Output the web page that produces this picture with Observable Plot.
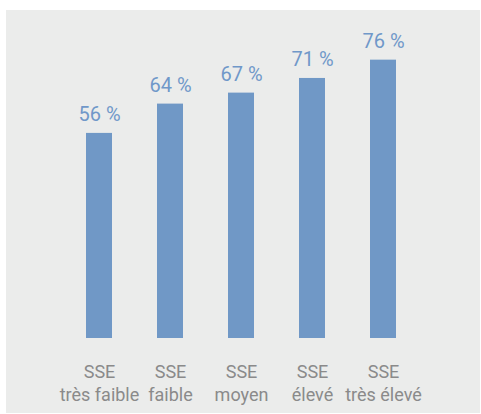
<!DOCTYPE html>
<html>
<head>
<meta charset="utf-8">
<script src="https://cdn.jsdelivr.net/npm/d3@7"></script>
<script src="https://cdn.jsdelivr.net/npm/@observablehq/plot@0.6"></script>
<style>
  html, body { margin: 0; padding: 0; background: #ffffff; }
  #wrap { position: absolute; left: 6px; top: 10px; width: 474px; height: 403px; background: #ebeceb; }
  svg { display: block; }
</style>
</head>
<body>
<div id="wrap"></div>
<script>
const categories = ["SSE\ntrès faible", "SSE\nfaible", "SSE\nmoyen", "SSE\nélevé", "SSE\ntrès élevé"];
const values = [56, 64, 67, 71, 76];
const valueLabels = ["56 %", "64 %", "67 %", "71 %", "76 %"];

const data = categories.map((c, i) => ({cat: c, v: values[i], label: valueLabels[i]}));

const chart = Plot.plot({
  width: 474,
  height: 403,
  marginLeft: 42,
  marginRight: 47,
  marginTop: 35,
  marginBottom: 75,
  style: {background: "transparent", fontFamily: "Roboto, 'Liberation Sans', sans-serif", fontSize: "18px"},
  x: {domain: categories, paddingInner: 0.638, paddingOuter: 0.5, label: null},
  y: {domain: [0, 80], axis: null},
  marks: [
    Plot.barY(data, {x: "cat", y: "v", fill: "#7098c6"}),
    Plot.text(data, {x: "cat", y: "v", text: "label", lineAnchor: "bottom", dy: -12,
      fill: "#7098c9", fontSize: 20, fontWeight: 400, style: {letterSpacing: "-1.2px"}}),
    Plot.axisX({tickSize: 0, tickPadding: 22, fontSize: 18, lineHeight: 1.33, fill: "#8a8a8a", label: null, textStroke: "none"})
  ]
});
document.getElementById("wrap").appendChild(chart);
</script>
</body>
</html>
